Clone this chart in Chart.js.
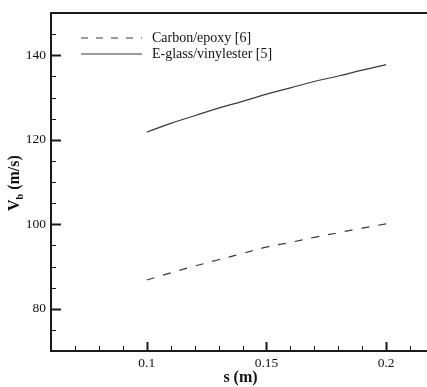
<!DOCTYPE html>
<html>
<head>
<meta charset="utf-8">
<script src="https://cdn.jsdelivr.net/npm/chart.js@4.4.1/dist/chart.umd.min.js"></script>
<style>
  html, body { margin: 0; padding: 0; background: #fff; overflow: hidden; }
  #wrap { width: 440px; height: 387px; position: relative; }
</style>
</head>
<body>
<div id="wrap"><canvas id="chart"></canvas></div>
<script>
// 讀圖估計的數值
const sValues = [0.1, 0.11, 0.12, 0.13, 0.14, 0.15, 0.16, 0.17, 0.18, 0.19, 0.2];
const carbonEpoxy = [86.8, 88.5, 90.1, 91.6, 93.1, 94.6, 95.7, 96.9, 98.0, 99.1, 100.1];
const eglassVinyl = [121.8, 123.9, 125.7, 127.5, 129.1, 130.8, 132.3, 133.8, 135.1, 136.5, 137.8];

const seriesLabels = ['Carbon/epoxy [6]', 'E-glass/vinylester [5]'];
const xMajorTicks = [0.1, 0.15, 0.2];
const xMinorTicks = [0.07, 0.08, 0.09, 0.11, 0.12, 0.13, 0.14, 0.16, 0.17, 0.18, 0.19, 0.21];
const yMajorTicks = [80, 100, 120, 140];
const yMinorTicks = [75, 85, 90, 95, 105, 110, 115, 125, 130, 135, 145];

const axisColor = '#1a1a1a';
const lineColor = '#3a3a3a';
const serif = '"Liberation Serif", "DejaVu Serif", serif';

// 內向刻度、上框線、軸標題、圖例
const decorPlugin = {
  id: 'decor',
  afterDraw(chart) {
    const { ctx, chartArea, scales } = chart;
    const { left, right, top, bottom } = chartArea;
    ctx.save();
    ctx.strokeStyle = axisColor;

    // top frame
    ctx.lineWidth = 2;
    ctx.beginPath();
    ctx.moveTo(left, top);
    ctx.lineTo(right, top);
    ctx.stroke();

    const tick = (x1, y1, x2, y2, w) => {
      ctx.lineWidth = w;
      ctx.beginPath();
      ctx.moveTo(x1, y1);
      ctx.lineTo(x2, y2);
      ctx.stroke();
    };
    xMajorTicks.forEach(v => {
      const px = Math.round(scales.x.getPixelForValue(v)) + 0.5;
      tick(px, bottom, px, bottom - 9, 2);
    });
    xMinorTicks.forEach(v => {
      const px = Math.round(scales.x.getPixelForValue(v)) + 0.5;
      tick(px, bottom, px, bottom - 5, 1);
    });
    yMajorTicks.forEach(v => {
      const py = Math.round(scales.y.getPixelForValue(v)) + 0.5;
      tick(left, py, left + 10, py, 2);
    });
    yMinorTicks.forEach(v => {
      const py = Math.round(scales.y.getPixelForValue(v)) + 0.5;
      tick(left, py, left + 5, py, 1);
    });

    // x title
    ctx.fillStyle = '#111';
    ctx.textAlign = 'center';
    ctx.textBaseline = 'middle';
    ctx.font = 'bold 16px ' + serif;
    ctx.fillText('s (m)', (left + right) / 2 - 2, 378);

    // y title with subscript
    ctx.save();
    ctx.translate(15, (top + bottom) / 2 + 1);
    ctx.rotate(-Math.PI / 2);
    ctx.textAlign = 'left';
    const bigFont = 'bold 16px ' + serif;
    const subFont = 'bold 10px ' + serif;
    ctx.font = bigFont;
    const wV = ctx.measureText('V').width;
    const wRest = ctx.measureText(' (m/s)').width;
    ctx.font = subFont;
    const wB = ctx.measureText('b').width;
    let x = -(wV + wB + wRest) / 2;
    ctx.font = bigFont;
    ctx.fillText('V', x, 0);
    x += wV;
    ctx.font = subFont;
    ctx.fillText('b', x, 5);
    x += wB;
    ctx.font = bigFont;
    ctx.fillText(' (m/s)', x, 0);
    ctx.restore();

    // legend
    ctx.font = '14px ' + serif;
    ctx.textAlign = 'left';
    chart.data.datasets.forEach((ds, i) => {
      const y = 38 + i * 16;
      ctx.strokeStyle = ds.borderColor;
      ctx.lineWidth = ds.borderWidth;
      ctx.setLineDash(ds.legendDash || []);
      ctx.beginPath();
      ctx.moveTo(81, y);
      ctx.lineTo(142, y);
      ctx.stroke();
      ctx.setLineDash([]);
      ctx.fillStyle = '#111';
      ctx.fillText(ds.label, 152, y);
    });
    ctx.restore();
  }
};

new Chart(document.getElementById('chart'), {
  type: 'line',
  data: {
    datasets: [
      {
        label: seriesLabels[0],
        data: sValues.map((s, i) => ({ x: s, y: carbonEpoxy[i] })),
        borderColor: lineColor,
        borderWidth: 1.2,
        borderDash: [8, 9],
        legendDash: [7, 8],
        pointRadius: 0,
        tension: 0.4,
        fill: false
      },
      {
        label: seriesLabels[1],
        data: sValues.map((s, i) => ({ x: s, y: eglassVinyl[i] })),
        borderColor: lineColor,
        borderWidth: 1.2,
        pointRadius: 0,
        tension: 0.4,
        fill: false
      }
    ]
  },
  options: {
    responsive: true,
    maintainAspectRatio: false,
    animation: false,
    layout: { padding: { top: 5, right: 6, left: 0, bottom: 0 } },
    plugins: {
      legend: { display: false },
      tooltip: { enabled: false }
    },
    scales: {
      x: {
        type: 'linear',
        min: 0.06,
        max: 0.22,
        afterFit(scale) { scale.height = 36; },
        afterBuildTicks(scale) { scale.ticks = xMajorTicks.map(v => ({ value: v })); },
        grid: { display: false, drawTicks: false },
        border: { display: true, color: axisColor, width: 2 },
        ticks: {
          padding: 4,
          color: '#111',
          font: { family: serif, size: 13.5 },
          callback: v => String(v)
        }
      },
      y: {
        type: 'linear',
        min: 70,
        max: 150,
        afterFit(scale) { scale.width = 51; },
        afterBuildTicks(scale) { scale.ticks = yMajorTicks.map(v => ({ value: v })); },
        grid: { display: false, drawTicks: false },
        border: { display: true, color: axisColor, width: 2 },
        ticks: {
          padding: 5,
          color: '#111',
          font: { family: serif, size: 13.5 },
          callback: v => String(v)
        }
      }
    }
  },
  plugins: [decorPlugin]
});
</script>
</body>
</html>
